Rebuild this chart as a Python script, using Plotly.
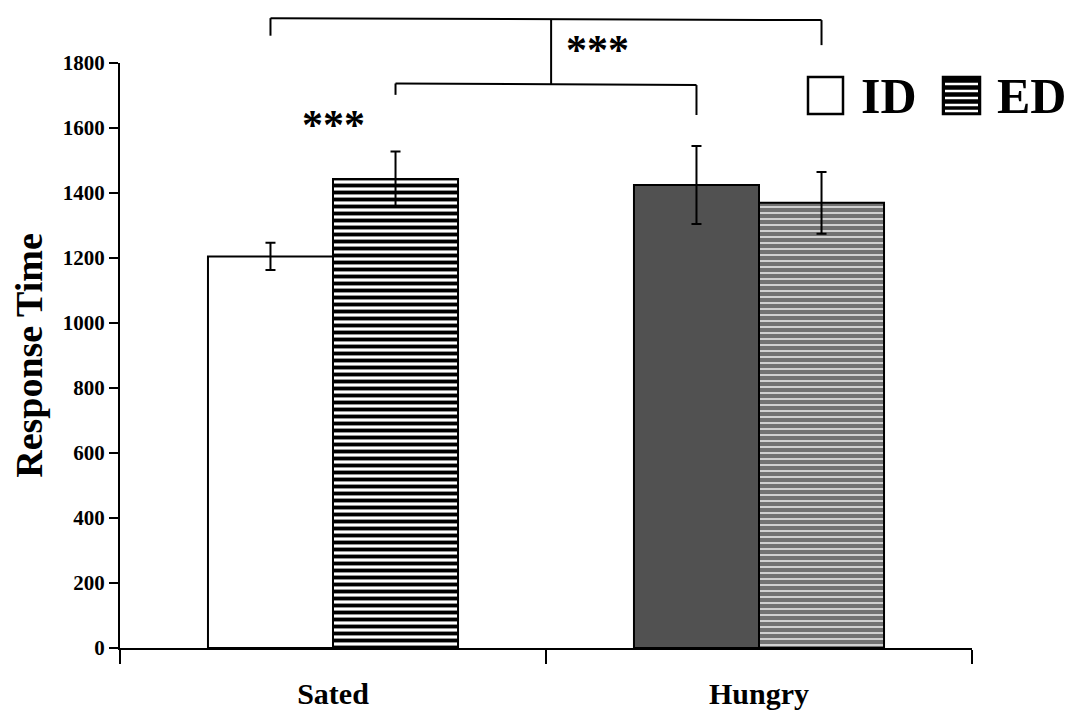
import plotly.graph_objects as go

# ---- data ----
categories = ["Sated", "Hungry"]
id_values = [1205, 1425]
id_errors = [42, 120]
ed_values = [1443, 1370]
ed_errors = [85, 95]
y_ticks = [0, 200, 400, 600, 800, 1000, 1200, 1400, 1600, 1800]
YMAX = 1800
BARGAP = 0.413

SERIF = "Liberation Serif, Times New Roman, serif"

# ---- styles (one per category) ----
id_styles = [
    dict(color="white", line=dict(color="black", width=2)),
    dict(color="#515151", line=dict(color="black", width=2)),
]
ed_styles = [
    dict(color="white", line=dict(color="black", width=2),
         pattern=dict(shape="-", fgcolor="#000000", bgcolor="white",
                      size=7, solidity=0.55, fgopacity=1)),
    dict(color="#141414", line=dict(color="black", width=2),
         pattern=dict(shape="-", fgcolor="#141414", bgcolor="#d0d0d0",
                      size=6, solidity=2 / 3)),
]
err_style = dict(type="data", color="black", thickness=2, width=5)

fig = go.Figure()
for i, cat in enumerate(categories):
    fig.add_trace(go.Bar(
        name="ID", x=[cat], y=[id_values[i]], offsetgroup="ID",
        error_y=dict(array=[id_errors[i]], **err_style),
        marker=id_styles[i], showlegend=False,
    ))
    fig.add_trace(go.Bar(
        name="ED", x=[cat], y=[ed_values[i]], offsetgroup="ED",
        error_y=dict(array=[ed_errors[i]], **err_style),
        marker=ed_styles[i], showlegend=False,
    ))

# ---- geometry (page body has an 8px margin) ----
OFF = 8
W, H = 1073 - 2 * OFF, 721 - 2 * OFF
ML, MT = 120 - OFF, 63 - OFF
MR = W - (972 - OFF)
MB = H - (648 - OFF)
PW, PH = W - ML - MR, H - MT - MB
half = (1 - BARGAP) / 4  # offset of each bar centre from category centre


def px_x(px):  # screen pixel x -> paper
    return (px - OFF - ML) / PW


def pyp(p):  # screen pixel y -> paper
    return (H - MB - (p - OFF)) / PH


def py(v):  # data value -> paper
    return v / YMAX


shapes = []
line = dict(color="black", width=2)
# outer bracket: Sated ID  <-> Hungry ED
x_a, x_b = 0 - half, 1 + half
x_m = (x_a + x_b) / 2 + 0.012
shapes += [
    dict(type="line", xref="x", yref="paper", x0=x_a, x1=x_b, y0=py(1938), y1=py(1932), line=line),
    dict(type="line", xref="x", yref="paper", x0=x_a, x1=x_a, y0=py(1938), y1=py(1884), line=line),
    dict(type="line", xref="x", yref="paper", x0=x_b, x1=x_b, y0=py(1932), y1=py(1855), line=line),
]
# inner bracket: Sated ED <-> Hungry ID
x_c, x_d = 0 + half, 1 - half
shapes += [
    dict(type="line", xref="x", yref="paper", x0=x_m, x1=x_m, y0=py(1935), y1=py(1735), line=line),
    dict(type="line", xref="x", yref="paper", x0=x_c, x1=x_d, y0=py(1737), y1=py(1732), line=line),
    dict(type="line", xref="x", yref="paper", x0=x_c, x1=x_c, y0=py(1737), y1=py(1702), line=line),
    dict(type="line", xref="x", yref="paper", x0=x_d, x1=x_d, y0=py(1732), y1=py(1640), line=line),
]

# ---- legend drawn manually ----
shapes.append(dict(type="rect", xref="paper", yref="paper",
                   x0=px_x(808), x1=px_x(843), y0=pyp(114), y1=pyp(77),
                   line=dict(color="black", width=2.5), fillcolor="white"))
shapes.append(dict(type="rect", xref="paper", yref="paper",
                   x0=px_x(943), x1=px_x(980), y0=pyp(114), y1=pyp(77),
                   line=dict(color="black", width=2.5), fillcolor="black"))
for yy in [84, 91, 98, 105, 111]:
    shapes.append(dict(type="line", xref="paper", yref="paper",
                       x0=px_x(945), x1=px_x(978), y0=pyp(yy), y1=pyp(yy),
                       line=dict(color="white", width=2.5)))

annotations = [
    dict(text="<b>ID</b>", xref="paper", yref="paper", x=px_x(859), y=pyp(96),
         xanchor="left", yanchor="middle", showarrow=False,
         font=dict(family=SERIF, size=50, color="black")),
    dict(text="<b>ED</b>", xref="paper", yref="paper", x=px_x(995), y=pyp(96),
         xanchor="left", yanchor="middle", showarrow=False,
         font=dict(family=SERIF, size=50, color="black")),
    dict(text="<b>***</b>", xref="x", yref="paper", x=x_m + 0.11, y=py(1840),
         xanchor="center", yanchor="middle", showarrow=False,
         font=dict(family=SERIF, size=42, color="black")),
    dict(text="<b>***</b>", xref="x", yref="paper", x=0.0, y=py(1610),
         xanchor="center", yanchor="middle", showarrow=False,
         font=dict(family=SERIF, size=42, color="black")),
]

fig.update_layout(
    width=W, height=H,
    margin=dict(l=ML, r=MR, t=MT, b=MB),
    paper_bgcolor="white", plot_bgcolor="white",
    barmode="group", bargap=BARGAP, bargroupgap=0,
    shapes=shapes, annotations=annotations,
    font=dict(family=SERIF, color="black"),
)
fig.update_xaxes(
    type="category", categoryorder="array", categoryarray=categories,
    showline=True, linecolor="black", linewidth=2,
    ticks="outside", tickson="boundaries", ticklen=14, tickwidth=2, tickcolor="black",
    tickfont=dict(family=SERIF, size=30, color="black"),
    ticktext=["<b>Sated</b>", "<b>Hungry</b>"], tickvals=categories,
    ticklabelstandoff=18, showgrid=False, zeroline=False, automargin=False,
)
fig.update_yaxes(
    range=[0, YMAX], showline=True, linecolor="black", linewidth=2,
    ticks="outside", ticklen=9, tickwidth=2, tickcolor="black",
    tickvals=y_ticks, ticktext=[f"<b>{v}</b>" for v in y_ticks],
    tickfont=dict(family=SERIF, size=21, color="black"),
    showgrid=False, zeroline=False,
    title=dict(text="<b>Response Time</b>", font=dict(family=SERIF, size=38, color="black"),
               standoff=16),
)

fig.write_html("out.html")
